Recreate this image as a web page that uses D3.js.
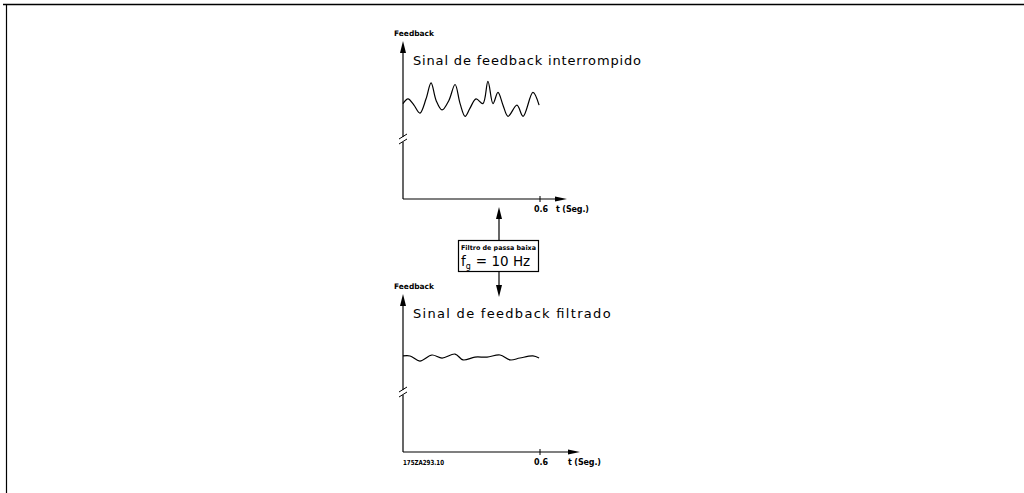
<!DOCTYPE html>
<html><head><meta charset="utf-8">
<script src="https://cdn.jsdelivr.net/npm/d3@7"></script>
<style>html,body{margin:0;padding:0;background:#fff}svg{display:block}</style>
</head><body>
<svg id="c" width="1024" height="493"></svg>
<script>
// data
const rawTime = [0,0.022,0.048,0.074,0.101,0.123,0.145,0.171,0.201,0.228,0.250,0.272,0.293,0.320,0.350,0.372,0.394,0.416,0.438,0.460,0.499,0.526,0.569,0.596];
const rawValue = [60,63,59,54,63,73,62,56,62,72,60,52,57,63,60,74,60,67,59,52,59,52,67,59];
const filtTime = [0,0.031,0.074,0.127,0.171,0.228,0.263,0.315,0.368,0.425,0.469,0.512,0.569,0.596];
const filtValue = [60.4,60.4,57.2,61,59.1,61.6,57.9,59.7,59.7,61,57.9,59.1,60.4,59.1];
const xTicks = [0.6];
const titles = ["Sinal de feedback interrompido","Sinal de feedback filtrado"];

const svg = d3.select("#c");
// frame
svg.append("line").attr("x1",3).attr("x2",1024).attr("y1",4.5).attr("y2",4.5).attr("stroke","#000").attr("stroke-width",1.4);
svg.append("line").attr("x1",6.5).attr("x2",6.5).attr("y1",4).attr("y2",493).attr("stroke","#000").attr("stroke-width",1.2);

function panel(y0, times, values, title, axisEnd, tLabelX, breakY){
  const x = d3.scaleLinear().domain([0,0.6]).range([403,540]);
  const y = d3.scaleLinear().domain([0,100]).range([y0, y0-159]);
  const g = svg.append("g");
  // y axis
  g.append("line").attr("x1",403).attr("x2",403).attr("y1",y0).attr("y2",y0-150).attr("stroke","#000").attr("stroke-width",1.2);
  g.append("path").attr("d",`M403,${y0-158} L400,${y0-146} L406,${y0-146} Z`).attr("fill","#000");
  // x axis
  g.append("line").attr("x1",403).attr("x2",axisEnd-8).attr("y1",y0).attr("y2",y0).attr("stroke","#000").attr("stroke-width",1.2);
  g.append("path").attr("d",`M${axisEnd},${y0} L${axisEnd-12},${y0-2.5} L${axisEnd-12},${y0+2.5} Z`).attr("fill","#000");
  // ticks
  xTicks.forEach(t=>{
    g.append("line").attr("x1",x(t)).attr("x2",x(t)).attr("y1",y0-3).attr("y2",y0+3).attr("stroke","#000").attr("stroke-width",1);
    g.append("text").attr("x",x(t)-6).attr("y",y0+13).attr("font-family","DejaVu Sans").attr("font-weight","bold").attr("font-size",8).text(t);
  });
  g.append("text").attr("x",tLabelX).attr("y",y0+13).attr("font-family","DejaVu Sans").attr("font-weight","bold").attr("font-size",8).attr("textLength",33).text("t (Seg.)");
  // break
  g.append("rect").attr("x",401).attr("y",breakY-3).attr("width",4).attr("height",5).attr("fill","#fff");
  g.append("line").attr("x1",399).attr("y1",breakY-1).attr("x2",407).attr("y2",breakY-6).attr("stroke","#000").attr("stroke-width",1);
  g.append("line").attr("x1",399).attr("y1",breakY+4).attr("x2",407).attr("y2",breakY-1).attr("stroke","#000").attr("stroke-width",1);
  // label
  g.append("text").attr("x",394).attr("y",y0-163).attr("font-family","DejaVu Sans").attr("font-weight","bold").attr("font-size",7.5).attr("textLength",40).attr("lengthAdjust","spacingAndGlyphs").text("Feedback");
  // title
  g.append("text").attr("x",413).attr("y",y0-134).attr("font-family","DejaVu Sans").attr("font-size",13)
    .attr("textLength", title.length*7.6).attr("lengthAdjust","spacing").text(title);
  // curve
  const line = d3.line().x((d,i)=>x(times[i])).y(d=>y(d)).curve(d3.curveCatmullRom.alpha(0.5));
  g.append("path").attr("d",line(values)).attr("fill","none").attr("stroke","#000").attr("stroke-width",1.2);
}
panel(199, rawTime, rawValue, titles[0], 567, 556, 140);
panel(452, filtTime, filtValue, titles[1], 580, 568, 393);

// box and arrows
svg.append("line").attr("x1",499).attr("x2",499).attr("y1",240).attr("y2",216).attr("stroke","#000").attr("stroke-width",1.2);
svg.append("path").attr("d","M499,207 L496,219 L502,219 Z").attr("fill","#000");
svg.append("line").attr("x1",499).attr("x2",499).attr("y1",271).attr("y2",288).attr("stroke","#000").attr("stroke-width",1.2);
svg.append("path").attr("d","M499,297 L496,285 L502,285 Z").attr("fill","#000");
svg.append("rect").attr("x",458.5).attr("y",240.5).attr("width",80).attr("height",31).attr("fill","#fff").attr("stroke","#000").attr("stroke-width",1.2);
svg.append("text").attr("x",461).attr("y",250).attr("font-family","DejaVu Sans").attr("font-weight","bold").attr("font-size",6.5).attr("textLength",75).attr("lengthAdjust","spacingAndGlyphs").text("Filtro de passa baixa");
const ft = svg.append("text").attr("x",461).attr("y",266).attr("font-family","DejaVu Sans").attr("font-size",13.5);
ft.append("tspan").text("f");
ft.append("tspan").attr("font-size",8).attr("dy",3).text("g");
ft.append("tspan").attr("dy",-3).attr("dx",5).text("=  10  Hz");
svg.append("text").attr("x",403).attr("y",465).attr("font-family","DejaVu Sans").attr("font-weight","bold").attr("font-size",7).attr("textLength",41).attr("lengthAdjust","spacingAndGlyphs").text("175ZA293.10");
</script>
</body></html>
